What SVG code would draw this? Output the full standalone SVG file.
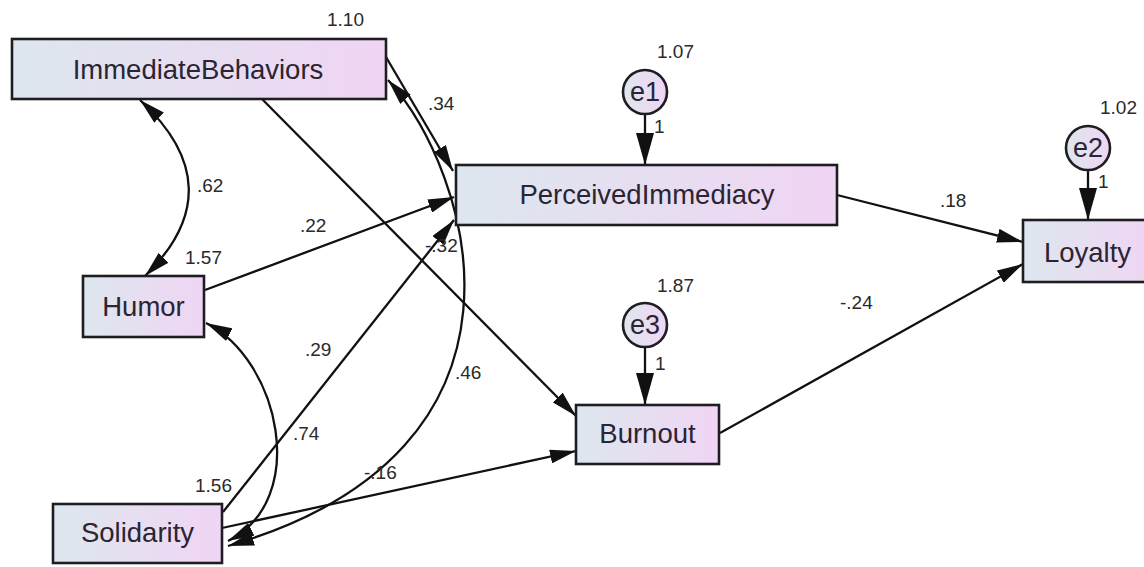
<svg xmlns="http://www.w3.org/2000/svg" width="1144" height="567" viewBox="0 0 1144 567">
<defs>
<linearGradient id="boxg" x1="0" y1="0" x2="1" y2="0">
<stop offset="0" stop-color="#dde7ee"/>
<stop offset="1" stop-color="#f0d5f4"/>
</linearGradient>
<marker id="arr" markerUnits="userSpaceOnUse" markerWidth="26" markerHeight="14" refX="26" refY="7" orient="auto-start-reverse" viewBox="0 0 26 14"><path d="M0,0 L26,7 L0,14 z" fill="#111"/></marker>
<marker id="arrE" markerUnits="userSpaceOnUse" markerWidth="32" markerHeight="18" refX="32" refY="9" orient="auto" viewBox="0 0 32 18"><path d="M0,0 L32,9 L0,18 z" fill="#111"/></marker>
</defs>
<style>
.box{fill:url(#boxg);stroke:#1e1e22;stroke-width:2.6}
.circ{fill:url(#boxg);stroke:#1e1e22;stroke-width:2.6}
.lbl{font-family:"Liberation Sans",Arial,sans-serif;font-size:27.5px;fill:#2a2433;text-anchor:middle}
.clbl{font-family:"Liberation Sans",Arial,sans-serif;font-size:27px;fill:#2a2433;text-anchor:middle}
.num{font-family:"Liberation Sans",Arial,sans-serif;font-size:19px;fill:#2a2a2a}
.ln{fill:none;stroke:#111;stroke-width:2.3}
.a{marker-end:url(#arr)}
.d{marker-start:url(#arr);marker-end:url(#arr)}
.e{marker-end:url(#arrE)}
</style>
<rect width="1144" height="567" fill="#ffffff"/>

<g id="connectors">
<path class="ln d" d="M140,100 Q235,188 145,276"/>
<path class="ln a" d="M386,57 L453,171"/>
<path class="ln d" d="M388,80 C470,170 560,450 228,546"/>
<path class="ln a" d="M262,99 L576,416"/>
<path class="ln a" d="M205,290 L454,197"/>
<path class="ln a" d="M223,512 L454,220"/>
<path class="ln a" d="M222,528 L576,451"/>
<path class="ln d" d="M206,323 C280,360 310,500 228,541"/>
<path class="ln a" d="M837,195 L1023,242"/>
<path class="ln a" d="M720,433 L1023,264"/>
<path class="ln e" d="M645,115 L645,165"/>
<path class="ln e" d="M645,347 L645,405"/>
<path class="ln e" d="M1088,171 L1088,220"/>
</g>

<g id="labels">
<text class="num" x="327" y="26">1.10</text>
<text class="num" x="428" y="110">.34</text>
<text class="num" x="657" y="58">1.07</text>
<text class="num" x="654" y="133">1</text>
<text class="num" x="197" y="192">.62</text>
<text class="num" x="300" y="232">.22</text>
<text class="num" x="185" y="264">1.57</text>
<text class="num" x="305" y="356">.29</text>
<text class="num" x="425" y="252">-.32</text>
<text class="num" x="455" y="379">.46</text>
<text class="num" x="293" y="440">.74</text>
<text class="num" x="195" y="492">1.56</text>
<text class="num" x="364" y="479">-.16</text>
<text class="num" x="657" y="292">1.87</text>
<text class="num" x="655" y="370">1</text>
<text class="num" x="940" y="207">.18</text>
<text class="num" x="840" y="309">-.24</text>
<text class="num" x="1100" y="114">1.02</text>
<text class="num" x="1098" y="188">1</text>
</g>

<g id="ImmediateBehaviors">
<rect class="box" x="12" y="39" width="374" height="60"/>
<text class="lbl" x="198" y="79">ImmediateBehaviors</text>
</g>
<g id="PerceivedImmediacy">
<rect class="box" x="456" y="165" width="381" height="60"/>
<text class="lbl" x="647" y="204">PerceivedImmediacy</text>
</g>
<g id="Humor">
<rect class="box" x="83" y="276" width="121" height="61"/>
<text class="lbl" x="143.5" y="316">Humor</text>
</g>
<g id="Solidarity">
<rect class="box" x="53" y="504" width="169" height="59"/>
<text class="lbl" x="137.5" y="542">Solidarity</text>
</g>
<g id="Burnout">
<rect class="box" x="576" y="405" width="143" height="59"/>
<text class="lbl" x="647.5" y="443">Burnout</text>
</g>
<g id="Loyalty">
<rect class="box" x="1023" y="220" width="129" height="62"/>
<text class="lbl" x="1087.5" y="262">Loyalty</text>
</g>
<g id="e1">
<circle class="circ" cx="645" cy="92" r="22"/>
<text class="clbl" x="645" y="101">e1</text>
</g>
<g id="e3">
<circle class="circ" cx="645" cy="325" r="22"/>
<text class="clbl" x="645" y="334">e3</text>
</g>
<g id="e2">
<circle class="circ" cx="1088" cy="148" r="22"/>
<text class="clbl" x="1088" y="157">e2</text>
</g>
</svg>
